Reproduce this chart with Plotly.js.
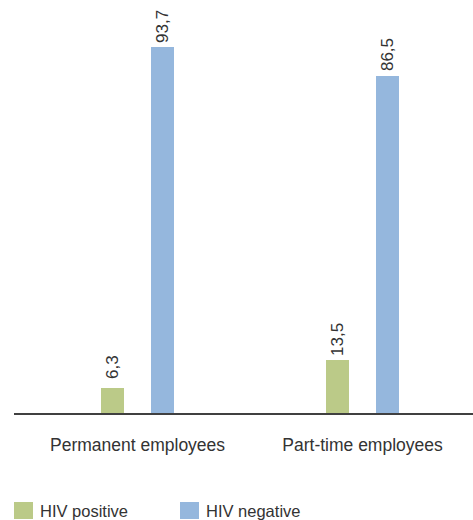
<!DOCTYPE html>
<html>
<head>
<meta charset="utf-8">
<script src="https://cdn.plot.ly/plotly-3.0.1.min.js"></script>
<style>html,body{margin:0;padding:0;background:#fff;}#chart{width:473px;height:520px;}</style>
</head>
<body>
<div id="chart"></div>
<script>
const categories = ["Permanent employees", "Part-time employees"];
const seriesNames = ["HIV positive", "HIV negative"];
const hivPositive = [6.3, 13.5];
const hivNegative = [93.7, 86.5];
const colors = ["#BBCA88", "#95B7DD"];

const FONT = "Liberation Sans, Arial, sans-serif";
const fmt = v => v.toFixed(1).replace(".", ",");
const xIdx = categories.map((c, i) => i);
const barWidth = 0.102;
const offsets = [-0.162, 0.06];
const seriesVals = [hivPositive, hivNegative];

const traces = seriesVals.map((vals, k) => ({
  type: "bar",
  name: seriesNames[k],
  x: xIdx,
  y: vals,
  width: barWidth,
  offset: offsets[k],
  marker: {color: colors[k]},
  hoverinfo: "none",
  showlegend: false
}));

// value labels, rotated, placed above each bar
const annotations = [];
seriesVals.forEach((vals, k) => {
  vals.forEach((v, i) => {
    annotations.push({
      x: xIdx[i] + offsets[k] + barWidth / 2, y: v, xref: "x", yref: "y",
      text: fmt(v), showarrow: false, textangle: -90,
      xanchor: "center", yanchor: "middle", yshift: 21,
      font: {family: FONT, size: 17, color: "#333"}
    });
  });
});

// legend (built manually to match square swatches)
const plotL = 14, plotR = 473, plotT = 10, plotB = 413;
const px2x = p => (p - plotL) / (plotR - plotL);
const px2y = p => (plotB - p) / (plotB - plotT);
const legendX = [14, 180];
const shapes = [];
seriesNames.forEach((n, k) => {
  shapes.push({type: "rect", xref: "paper", yref: "paper",
    x0: px2x(legendX[k]), x1: px2x(legendX[k] + 19),
    y0: px2y(519), y1: px2y(502),
    fillcolor: colors[k], line: {width: 0}});
  annotations.push({xref: "paper", yref: "paper", x: px2x(legendX[k] + 24), y: px2y(511),
    xanchor: "left", yanchor: "middle", text: n, showarrow: false,
    font: {family: FONT, size: 16.5, color: "#333"}});
});

const layout = {
  width: 473, height: 520,
  margin: {l: plotL, r: 473 - plotR, t: plotT, b: 520 - plotB, autoexpand: false},
  paper_bgcolor: "#fff", plot_bgcolor: "#fff",
  font: {family: FONT, size: 17, color: "#333"},
  showlegend: false,
  xaxis: {
    range: [-0.549, 1.491],
    tickvals: xIdx, ticktext: categories,
    showline: true, linecolor: "#404040", linewidth: 1.5,
    ticks: "outside", ticklen: 15, tickcolor: "rgba(0,0,0,0)",
    showgrid: false, zeroline: false, fixedrange: true,
    tickfont: {family: FONT, size: 17.5, color: "#333"}
  },
  yaxis: {range: [0, 103.3], visible: false, showgrid: false, zeroline: false},
  annotations: annotations,
  shapes: shapes,
  bargap: 0
};

Plotly.newPlot("chart", traces, layout, {displayModeBar: false, staticPlot: true});
</script>
</body>
</html>
